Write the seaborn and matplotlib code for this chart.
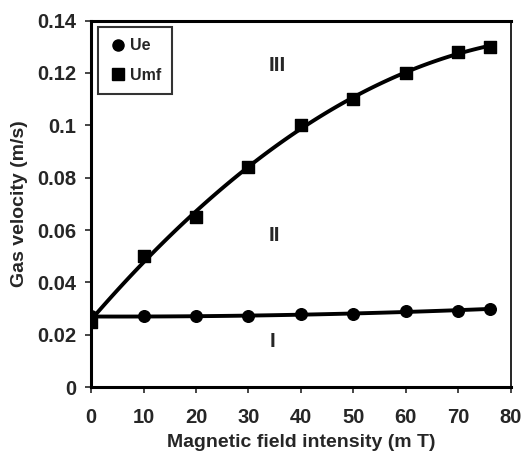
import numpy as np
import pandas as pd
import matplotlib
matplotlib.use("Agg")
import matplotlib.pyplot as plt
from matplotlib.lines import Line2D
import seaborn as sns

# data
field = [0, 10, 20, 30, 40, 50, 60, 70, 76]
ue = [0.027, 0.027, 0.027, 0.027, 0.028, 0.028, 0.029, 0.029, 0.030]
umf = [0.025, 0.050, 0.065, 0.084, 0.100, 0.110, 0.120, 0.128, 0.130]

region_labels = ["III", "II", "I"]
region_x = [35.5, 35.0, 34.5]
region_y = [0.123, 0.058, 0.0175]

df = pd.DataFrame({"field": field, "Ue": ue, "Umf": umf})

sns.set_style("white")
plt.rcParams["font.family"] = ["Liberation Sans", "DejaVu Sans"]
plt.rcParams["font.weight"] = "bold"

fig, ax = plt.subplots(figsize=(5.21, 4.57), dpi=100)

# smooth trend lines plus markers
sns.regplot(data=df, x="field", y="Ue", order=2, ci=None, ax=ax, marker="o",
            scatter_kws={"s": 70, "color": "black", "alpha": 1},
            line_kws={"color": "black", "lw": 2.8})
sns.regplot(data=df, x="field", y="Umf", order=2, ci=None, ax=ax, marker="s",
            scatter_kws={"s": 65, "color": "black", "alpha": 1},
            line_kws={"color": "black", "lw": 2.8})

for lab, x, y in zip(region_labels, region_x, region_y):
    ax.text(x, y, lab, fontsize=15, fontweight="heavy", ha="center", va="center")

ax.set_xlim(0, 80)
ax.set_ylim(0, 0.14)
ax.set_xticks(range(0, 81, 10))
ax.set_yticks([0, 0.02, 0.04, 0.06, 0.08, 0.1, 0.12, 0.14])
ax.set_yticklabels(["0", "0.02", "0.04", "0.06", "0.08", "0.1", "0.12", "0.14"])
ax.tick_params(axis="both", labelsize=14.5, direction="out", length=4,
               width=1.2, bottom=True, left=True, pad=7)
ax.tick_params(axis="x", pad=11)
for lab in ax.get_xticklabels() + ax.get_yticklabels():
    lab.set_fontweight("heavy")

ax.set_xlabel("Magnetic field intensity (m T)", fontsize=14, fontweight="heavy",
              labelpad=5)
ax.set_ylabel("Gas velocity (m/s)", fontsize=14, fontweight="heavy", labelpad=6)

for side in ["left", "bottom", "top"]:
    ax.spines[side].set_linewidth(2.2)
    ax.spines[side].set_color("black")
ax.spines["right"].set_linewidth(1.2)
ax.spines["right"].set_color("black")

handles = [Line2D([], [], marker="o", color="black", ls="none", ms=8),
           Line2D([], [], marker="s", color="black", ls="none", ms=8)]
leg = ax.legend(handles, ["Ue", "Umf"], loc="upper left", frameon=True,
                fancybox=False, edgecolor="black", handletextpad=0.1,
                handlelength=1.2, borderpad=0.7,
                prop={"weight": "heavy", "size": 11.5},
                labelspacing=0.9, borderaxespad=0.4)
leg.get_frame().set_linewidth(1.5)

fig.subplots_adjust(left=0.175, right=0.98, top=0.955, bottom=0.153)
fig.savefig("out.png", dpi=100)
